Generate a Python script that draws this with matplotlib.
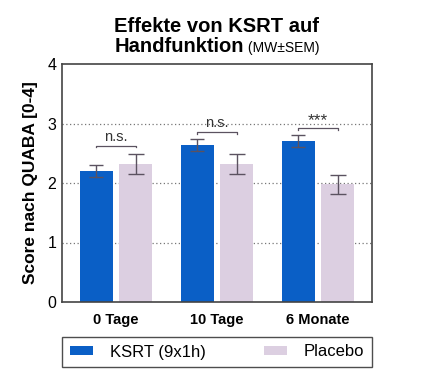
import matplotlib
matplotlib.use('Agg')
import matplotlib.pyplot as plt
import numpy as np

plt.rcParams['font.family'] = ['Liberation Sans', 'DejaVu Sans']

groups = ['0 Tage', '10 Tage', '6 Monate']
ksrt = [2.20, 2.64, 2.70]
ksrt_sem = [0.10, 0.10, 0.10]
placebo = [2.32, 2.32, 1.98]
placebo_sem = [0.17, 0.17, 0.16]
sig_labels = ['n.s.', 'n.s.', '***']
sig_heights = [2.63, 2.86, 2.92]

blue = '#0a5fc6'
lilac = '#dccfe1'
err_col = '#5b5260'

fig = plt.figure(figsize=(4.27, 3.83), dpi=100)
ax = fig.add_axes([62/427, 81/383, 310/427, 238/383])

x = np.arange(len(groups))
w = 0.33
off = 0.195
ax.bar(x - off, ksrt, w, color=blue, label='KSRT (9x1h)', zorder=2)
ax.bar(x + off, placebo, w, color=lilac, label='Placebo', zorder=2)
ax.errorbar(x - off, ksrt, yerr=ksrt_sem, fmt='none', ecolor=err_col,
            elinewidth=1, capsize=4.8, capthick=1, zorder=3)
ax.errorbar(x + off, placebo, yerr=placebo_sem, fmt='none', ecolor=err_col,
            elinewidth=1, capsize=6, capthick=1, zorder=3)

# significance brackets
for i in range(len(groups)):
    h = sig_heights[i]
    x0, x1 = x[i] - off, x[i] + off
    ax.plot([x0, x0, x1, x1], [h - 0.03, h, h, h - 0.03], color=err_col, lw=0.9, zorder=3)
    fs = 12.5 if sig_labels[i] == '***' else 10.5
    dy = 0.0 if sig_labels[i] == '***' else 0.03
    ax.text(x[i], h + dy, sig_labels[i], ha='center', va='bottom', fontsize=fs,
            color='#333333')

ax.set_xlim(-0.535, 2.535)
ax.set_ylim(0, 4)
ax.set_yticks([0, 1, 2, 3, 4])
ax.set_xticks(x)
ax.set_xticklabels(groups, fontweight='bold', fontsize=10.5)
ax.tick_params(axis='x', length=0, pad=8)
ax.tick_params(axis='y', length=0, labelsize=11.5, pad=4)
for yv in [1, 2, 3]:
    ax.axhline(yv, color='#777777', lw=0.9, ls=(0, (1, 2)), zorder=1)
for s in ax.spines.values():
    s.set_color('#444444')
    s.set_linewidth(1.2)
ax.set_ylabel('Score nach QUABA [0-4]', fontweight='bold', fontsize=12.5, labelpad=7)

fig.text(217/427, 1 - 27/383, 'Effekte von KSRT auf', ha='center', va='center',
         fontsize=14.5, fontweight='bold')
t1 = fig.text(0.5, 1 - 47/383, 'Handfunktion', ha='center', va='center',
              fontsize=14.5, fontweight='bold')
t2 = fig.text(0, 1 - 48/383, ' (MW±SEM)', ha='left', va='center', fontsize=10)
fig.canvas.draw()
r = fig.canvas.get_renderer()
w1 = t1.get_window_extent(renderer=r).width
w2 = t2.get_window_extent(renderer=r).width
total = w1 + w2
cx = 217
t1.set_position(((cx - total / 2 + w1 / 2) / 427, 1 - 47/383))
t2.set_position(((cx - total / 2 + w1) / 427, 1 - 48/383))

leg = fig.legend(loc='lower left', bbox_to_anchor=(62/427, 1 - 367/383, 310/427, 31/383),
                 mode='expand', ncol=2, fontsize=12, frameon=True, fancybox=False,
                 edgecolor='#222222', handlelength=1.4, handleheight=0.5,
                 borderaxespad=0, borderpad=0.45, handletextpad=1.0)
leg.get_frame().set_linewidth(1.0)

fig.savefig('out.png', dpi=100, facecolor='white')
